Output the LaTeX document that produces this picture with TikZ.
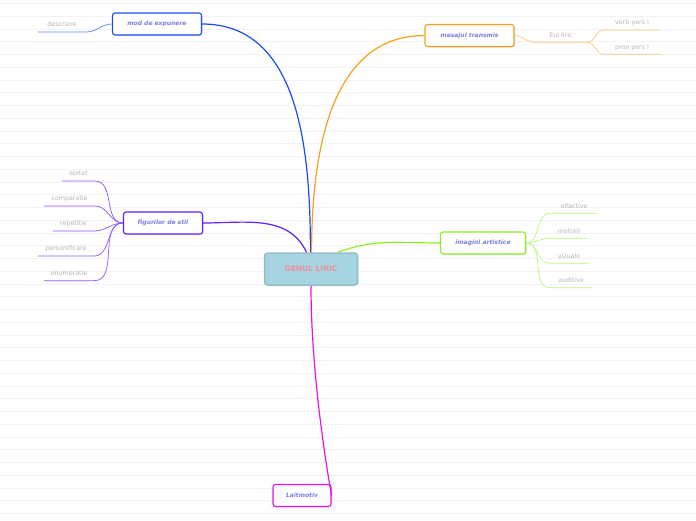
\documentclass[tikz,border=0pt]{standalone}
\usepackage{fontspec}
\setsansfont{DejaVu Sans}
\usepackage{xcolor}
\usepackage{tikz}
\usetikzlibrary{shadows}
\definecolor{bgline}   {RGB}{242,242,245}
\definecolor{modblue}  {RGB}{26,76,245}
\definecolor{mesorange}{RGB}{245,160,30}
\definecolor{figpurple}{RGB}{100,30,250}
\definecolor{imggreen} {RGB}{140,240,40}
\definecolor{laitmag}  {RGB}{230,20,230}
\definecolor{nodetxt}  {RGB}{125,125,225}
\definecolor{leaftxt}  {RGB}{180,180,180}
\definecolor{rootfill} {RGB}{166,212,224}
\definecolor{rootdraw} {RGB}{150,188,206}
\definecolor{roottxt}  {RGB}{240,140,160}
\tikzset{
  rootbox/.style ={draw=rootdraw, fill=rootfill, line width=1.5pt,
                   rounded corners=3pt, minimum width=93pt, minimum height=32pt,
                   font=\fontsize{7.5}{9}\selectfont\sffamily\bfseries,
                   text=roottxt,
                   drop shadow={opacity=0.15, shadow xshift=1pt, shadow yshift=-1pt}},
  mainbox/.style ={draw=#1, fill=white, line width=1.1pt, rounded corners=2.5pt,
                   minimum height=22pt, inner xsep=3pt,
                   font=\fontsize{6}{7}\selectfont\sffamily\bfseries\itshape,
                   text=nodetxt,
                   drop shadow={opacity=0.25, shadow xshift=1pt, shadow yshift=-1pt}},
  leaf/.style    ={anchor=south, inner xsep=0pt, inner ysep=3.5pt,
                   text height=5pt, text depth=1.5pt,
                   font=\fontsize{6.3}{7}\selectfont\sffamily, text=leaftxt},
  conn/.style    ={draw=#1, line width=1.2pt},
  twig/.style    ={draw=#1, line width=0.7pt},
}
\begin{document}
\begin{tikzpicture}[x=1pt,y=-1pt]
  \useasboundingbox (0,0) rectangle (696,520);
  %% background stripes
  \foreach \k in {0,...,40}
    \draw[bgline, line width=0.6pt] (0,3.5+12.75*\k) -- (696,3.5+12.75*\k);

  %% central topic
  \node[rootbox] (gen) at (311,269) {GENUL LIRIC};

  %% main topics
  \node[mainbox=modblue,   minimum width=89pt] (mod) at (157,24)    {mod de expunere};
  \node[mainbox=mesorange, minimum width=89pt] (msg) at (469.5,35.5) {mesajul transmis};
  \node[mainbox=figpurple, minimum width=79pt] (fig) at (163,223)   {figurilor de stil};
  \node[mainbox=imggreen,  minimum width=85pt] (img) at (483,243)   {imagini artistice};
  \node[mainbox=laitmag,   minimum width=58pt] (lait) at (302,495.5) {Laitmotiv};

  %% leaves
  \node[leaf, minimum width=48pt] (descr) at (62,32)    {descriere};
  \node[leaf, minimum width=52pt] (eul)   at (561,42.3) {Eul liric};
  \node[leaf, minimum width=56pt] (verb)  at (632,30)   {verb pers I};
  \node[leaf, minimum width=56pt] (pron)  at (632,54.3) {pron pers I};

  \node[leaf, minimum width=33pt] (epit)  at (78.5,181)  {epitet};
  \node[leaf, minimum width=51pt] (comp)  at (69.5,206)  {comparatie};
  \node[leaf, minimum width=41pt] (rep)   at (73.5,231)  {repetitie};
  \node[leaf, minimum width=56pt] (pers)  at (66,256)    {personificare};
  \node[leaf, minimum width=50pt] (enum)  at (69,280.7)  {enumeratie};

  \node[leaf, minimum width=48pt] (olf)   at (574,213.3) {olfactive};
  \node[leaf, minimum width=38pt] (mot)   at (569,238.3) {motorii};
  \node[leaf, minimum width=38pt] (viz)   at (569,263.3) {vizuale};
  \node[leaf, minimum width=42pt] (aud)   at (571,287.7) {auditive};

  %% main connectors
  \draw[conn=modblue]   (mod.east) to[out=0,in=90] (gen.92);
  \draw[conn=mesorange] (gen.88) to[out=90,in=180] (msg.west);
  \draw[conn=figpurple] (fig.east) to[out=0,in=115] (gen.105);
  \draw[conn=imggreen]  (gen.32) to[out=20,in=180] (img.west);
  \draw[conn=laitmag]   (gen.south) to[out=-90,in=100,looseness=0.8] (lait.east);

  %% twigs
  \draw[twig=modblue!70] (descr.south west) -- (descr.south east) to[out=0,in=180] (mod.west);

  \draw[twig=mesorange!60] (msg.east) to[out=0,in=180] (eul.south west) -- (eul.south east);
  \foreach \n in {verb,pron}
    \draw[twig=mesorange!60] (eul.south east) to[out=0,in=180] (\n.south west) -- (\n.south east);

  \foreach \n in {epit,comp,rep,pers,enum}
    \draw[twig=figpurple!75] (\n.south west) -- (\n.south east) to[out=0,in=180] (fig.west);

  \foreach \n in {olf,mot,viz,aud}
    \draw[twig=imggreen!60] (img.east) to[out=0,in=180] (\n.south west) -- (\n.south east);
\end{tikzpicture}
\end{document}
